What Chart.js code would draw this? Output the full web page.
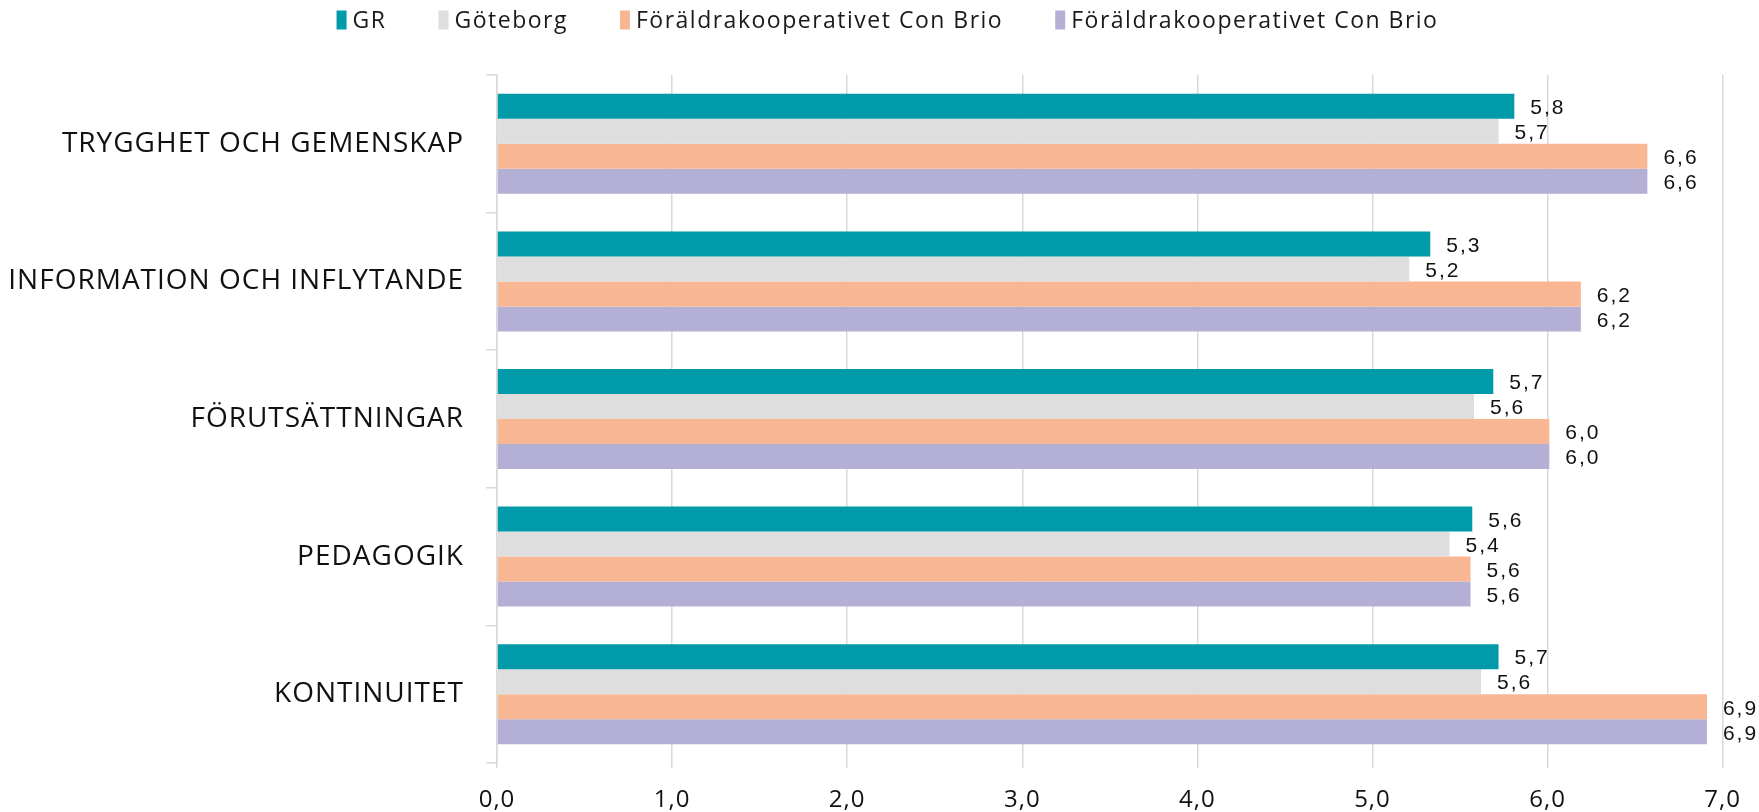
<!DOCTYPE html>
<html>
<head>
<meta charset="utf-8">
<script src="https://cdn.jsdelivr.net/npm/chart.js@4/dist/chart.umd.min.js"></script>
<style>
  html, body { margin: 0; padding: 0; background: #fff; }
  #wrap { width: 1759px; height: 812px; position: relative; }
</style>
</head>
<body>
<div id="wrap"><canvas id="barChart"></canvas></div>
<script>
var categories = ['TRYGGHET OCH GEMENSKAP', 'INFORMATION OCH INFLYTANDE', 'FÖRUTSÄTTNINGAR', 'PEDAGOGIK', 'KONTINUITET'];
var seriesNames = ['GR', 'Göteborg', 'Föräldrakooperativet Con Brio', 'Föräldrakooperativet Con Brio'];
var grValues = [5.81, 5.33, 5.69, 5.57, 5.72];
var goteborgValues = [5.72, 5.21, 5.58, 5.44, 5.62];
var conBrioValues = [6.57, 6.19, 6.01, 5.56, 6.91];
var conBrioValues2 = [6.57, 6.19, 6.01, 5.56, 6.91];
var xMin = 0, xMax = 7, xStep = 1;
var seriesColors = ['#009aa8', '#dedede', '#f8b692', '#b4afd4'];

function fmt(v) { return v.toFixed(1).replace('.', ','); }

var spacingPlugin = {
  id: 'spacing',
  beforeUpdate: function(chart) { chart.ctx.letterSpacing = '1px'; },
  beforeDraw: function(chart) { chart.ctx.letterSpacing = '1px'; }
};

var valueLabels = {
  id: 'valueLabels',
  afterDatasetsDraw: function(chart) {
    var ctx = chart.ctx;
    ctx.save();
    ctx.letterSpacing = '2px';
    ctx.font = '21px "Liberation Sans", Arial, sans-serif';
    ctx.fillStyle = '#111';
    ctx.textAlign = 'left';
    ctx.textBaseline = 'middle';
    chart.data.datasets.forEach(function(ds, i) {
      var meta = chart.getDatasetMeta(i);
      meta.data.forEach(function(bar, j) {
        ctx.fillText(fmt(ds.data[j]), bar.x + 16, bar.y + 2);
      });
    });
    ctx.restore();
  }
};

var topLegend = {
  id: 'topLegend',
  afterDraw: function(chart) {
    var ctx = chart.ctx;
    ctx.save();
    ctx.letterSpacing = '1.5px';
    ctx.font = '23px "Open Sans", sans-serif';
    var boxW = 10, boxH = 19, gap = 6, itemGap = 52, cy = 20;
    var items = chart.data.datasets.map(function(ds) {
      return { text: ds.label, color: ds.backgroundColor, w: boxW + gap + ctx.measureText(ds.label).width };
    });
    var total = items.reduce(function(s, it) { return s + it.w; }, 0) + itemGap * (items.length - 1);
    var x = chart.width / 2 - total / 2 + 8;
    ctx.textBaseline = 'middle';
    ctx.textAlign = 'left';
    items.forEach(function(it) {
      ctx.fillStyle = it.color;
      ctx.fillRect(x, cy - boxH / 2, boxW, boxH);
      ctx.fillStyle = '#1a1a1a';
      ctx.fillText(it.text, x + boxW + gap, cy + 1);
      x += it.w + itemGap;
    });
    ctx.restore();
  }
};

var ctx = document.getElementById('barChart').getContext('2d');
var chart = new Chart(ctx, {
  type: 'bar',
  data: {
    labels: categories,
    datasets: [
      { label: seriesNames[0], data: grValues, backgroundColor: seriesColors[0] },
      { label: seriesNames[1], data: goteborgValues, backgroundColor: seriesColors[1] },
      { label: seriesNames[2], data: conBrioValues, backgroundColor: seriesColors[2] },
      { label: seriesNames[3], data: conBrioValues2, backgroundColor: seriesColors[3] }
    ]
  },
  options: {
    indexAxis: 'y',
    responsive: true,
    maintainAspectRatio: false,
    animation: false,
    datasets: { bar: { categoryPercentage: 0.727, barPercentage: 1 } },
    layout: { padding: { top: 75, right: 35, left: 0, bottom: 0 } },
    plugins: { legend: { display: false }, tooltip: { enabled: false } },
    scales: {
      x: {
        min: xMin, max: xMax,
        ticks: {
          stepSize: xStep,
          padding: 18,
          color: '#111',
          font: { family: '"Open Sans", sans-serif', size: 24 },
          callback: function(v) { return fmt(v); }
        },
        grid: { color: '#d9d9d9', lineWidth: 1.5, tickLength: 5 },
        border: { display: false },
        afterFit: function(s) { s.height = 49; }
      },
      y: {
        ticks: {
          padding: 22,
          color: '#111',
          font: { family: '"Open Sans", sans-serif', size: 28 }
        },
        grid: { color: '#d9d9d9', lineWidth: 1.5, drawOnChartArea: false, tickLength: 11 },
        border: { display: true, color: '#d9d9d9', width: 1.5 },
        afterFit: function(s) { s.width = 497; }
      }
    }
  },
  plugins: [spacingPlugin, valueLabels, topLegend]
});
</script>
</body>
</html>
